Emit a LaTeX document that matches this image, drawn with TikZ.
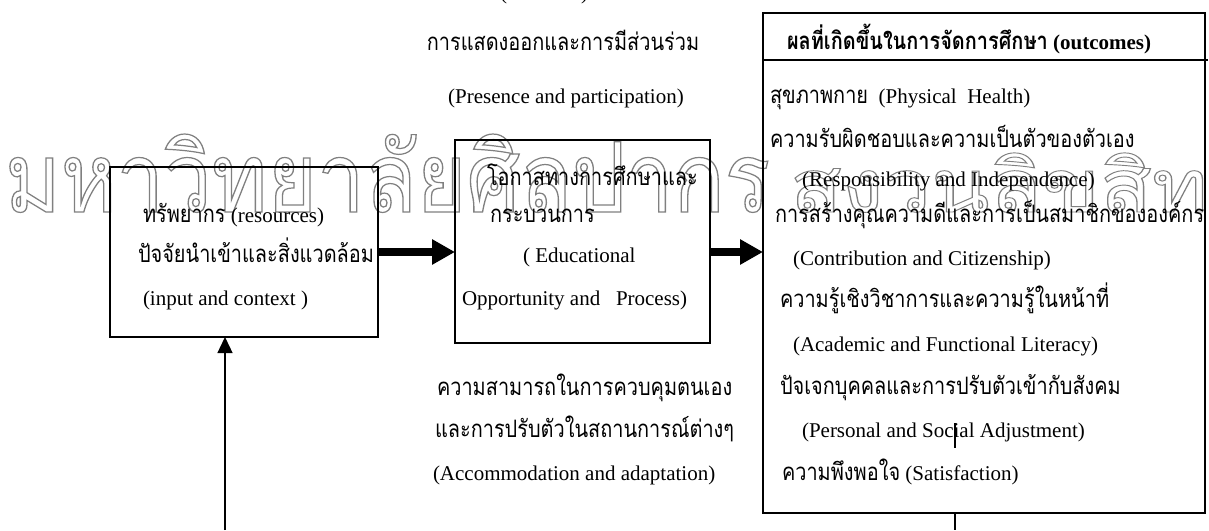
\documentclass[tikz,border=0pt]{standalone}
\usepackage{fontspec}
\setmainfont{Liberation Serif}
\newfontfamily\thai[Script=Thai,FakeStretch=0.83]{Loma}
\newfontfamily\wmfont[Script=Thai,FakeStretch=0.8]{Loma}
\usetikzlibrary{arrows.meta}
\newcommand{\T}[1]{{\fontsize{24}{28}\thai #1}}
\newcommand{\outl}[1]{\special{pdf:literal direct 1 Tr 0.5 0.5 0.5 RG 1.0 w}#1\special{pdf:literal direct 0 Tr 0 0 0 RG 0.4 w}}
\begin{document}
\begin{tikzpicture}[x=1pt,y=-1pt,
  every node/.style={inner sep=0pt, outer sep=0pt},
  txt/.style={anchor=base west, font=\fontsize{21}{25}\selectfont},
  ctxt/.style={anchor=base, font=\fontsize{21}{25}\selectfont},
  box/.style={draw, line width=1.5pt, anchor=north west},
  bigarrow/.style={line width=8pt, -{Triangle[length=23pt,width=24pt]}},
  thinarrow/.style={line width=1.3pt, -{Triangle[length=16pt,width=15pt]}},
  plain/.style={line width=1.3pt}]
\useasboundingbox (0,0) rectangle (1209,530);
% watermark
\node[anchor=base west] (wm1) at (5,212) {\resizebox{765pt}{78pt}{\outl{\fontsize{80}{80}\wmfont มหาวิทยาลัยศิลปากร}}};
\node[anchor=base west] (wm2) at (790,212) {\resizebox{470pt}{78pt}{\outl{\fontsize{80}{80}\wmfont สงวนลิขสิทธิ์}}};
% boxes
\node[box, minimum width=268pt, minimum height=170pt] (b1) at (110,167) {};
\node[box, minimum width=255pt, minimum height=203pt] (b2) at (455,140) {};
\node[box, minimum width=442pt, minimum height=500pt] (b3) at (763,13) {};
\draw[line width=1.5pt] (763,60) -- (1208,60);
% clipped text at top
\node[txt] (topcut) at (500,-1) {(\hspace{74pt})};
% top labels
\node[ctxt] (pp1) at (563,50) {\T{การแสดงออกและการมีส่วนร่วม}};
\node[ctxt] (pp2) at (566,103) {(Presence and participation)};
% box 1
\node[txt] (r1) at (143,222) {\T{ทรัพยากร} (resources)};
\node[txt] (r2) at (138,262) {\T{ปัจจัยนำเข้าและสิ่งแวดล้อม}};
\node[txt] (r3) at (143,305) {(input and context )};
% box 2
\node[txt] (e1) at (487,185) {\T{โอกาสทางการศึกษาและ}};
\node[txt] (e2) at (490,222) {\T{กระบวนการ}};
\node[txt] (e3) at (523,262) {( Educational};
\node[txt] (e4) at (462,305) {Opportunity and \ \ Process)};
% below box 2
\node[txt] (a1) at (437,395) {\T{ความสามารถในการควบคุมตนเอง}};
\node[txt] (a2) at (435,437) {\T{และการปรับตัวในสถานการณ์ต่างๆ}};
\node[txt] (a3) at (433,480) {(Accommodation and adaptation)};
% box 3
\node[txt, font=\fontsize{21}{25}\selectfont\bfseries] (h) at (787,49) {{\fontsize{24}{28}\thai\bfseries ผลที่เกิดขึ้นในการจัดการศึกษา} (outcomes)};
\node[txt] (o1) at (770,103) {\T{สุขภาพกาย} \ (Physical \ Health)};
\node[txt] (o2) at (770,147) {\T{ความรับผิดชอบและความเป็นตัวของตัวเอง}};
\node[txt] (o3) at (802,186) {(Responsibility and Independence)};
\node[txt] (o4) at (775,222) {\T{การสร้างคุณความดีและการเป็นสมาชิกขององค์กร}};
\node[txt] (o5) at (793,265) {(Contribution and Citizenship)};
\node[txt] (o6) at (780,307) {\T{ความรู้เชิงวิชาการและความรู้ในหน้าที่}};
\node[txt] (o7) at (793,351) {(Academic and Functional Literacy)};
\node[txt] (o8) at (780,394) {\T{ปัจเจกบุคคลและการปรับตัวเข้ากับสังคม}};
\node[txt] (o9) at (802,437) {(Personal and Social Adjustment)};
\node[txt] (o10) at (782,480) {\T{ความพึงพอใจ} (Satisfaction)};
% connectors
\draw[bigarrow] (b1.east) -- (b2.west |- b1.east);
\draw[bigarrow] (b2.east |- b1.east) -- (b3.west |- b1.east);
\coordinate (src) at (225,530);
\draw[thinarrow] (src) -- (src |- b1.south);
\coordinate (out) at (955,530);
\draw[plain] (out |- b3.south) -- (out);
\coordinate (t1) at (955,423);
\coordinate (t2) at (955,448);
\draw[plain] (t1) -- (t2);
\end{tikzpicture}
\end{document}
